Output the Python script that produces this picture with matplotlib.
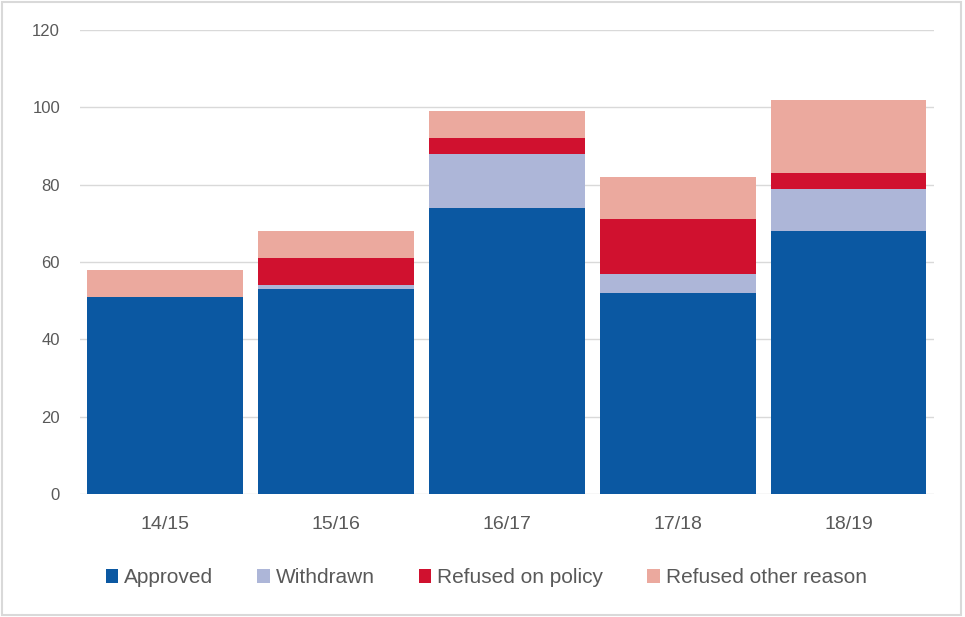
import matplotlib.pyplot as plt
from matplotlib.patches import Rectangle

years = ["14/15", "15/16", "16/17", "17/18", "18/19"]
approved = [51, 53, 74, 52, 68]
withdrawn = [0, 1, 14, 5, 11]
refused_policy = [0, 7, 4, 14, 4]
refused_other = [7, 7, 7, 11, 19]

series = [
    ("Approved", approved, "#0B58A2"),
    ("Withdrawn", withdrawn, "#ADB6D8"),
    ("Refused on policy", refused_policy, "#D0112F"),
    ("Refused other reason", refused_other, "#EBA99E"),
]

plt.rcParams["font.family"] = ["Liberation Sans", "DejaVu Sans"]

fig = plt.figure(figsize=(9.65, 6.17), dpi=100)
ax = fig.add_axes([0.0824, 0.1994, 0.8856, 0.752])

x = range(len(years))
bottom = [0] * len(years)
for label, vals, color in series:
    ax.bar(x, vals, bottom=bottom, width=0.91, color=color, label=label, zorder=3)
    bottom = [b + v for b, v in zip(bottom, vals)]

ax.set_xlim(-0.5, len(years) - 0.5)
ax.set_ylim(0, 120)
ax.set_yticks(range(0, 121, 20))
ax.set_xticks(list(x))
ax.set_xticklabels(years)
ax.yaxis.grid(True, color="#D9D9D9", linewidth=1, zorder=0)
for s in ax.spines.values():
    s.set_visible(False)
ax.tick_params(axis="both", length=0, colors="#595959")
ax.tick_params(axis="y", labelsize=12, pad=14)
ax.tick_params(axis="x", labelsize=14, pad=16)

ax.legend(loc="center", bbox_to_anchor=(0.476, -0.181), ncol=4, frameon=False,
          fontsize=15, handlelength=0.6, handleheight=0.6, handletextpad=0.3,
          columnspacing=2.1, labelcolor="#595959")

# light chart border
fig.patches.append(Rectangle((0.002, 0.003), 0.994, 0.994, transform=fig.transFigure,
                             fill=False, edgecolor="#D9D9D9", linewidth=1.5))

fig.savefig("out.png", dpi=100)
